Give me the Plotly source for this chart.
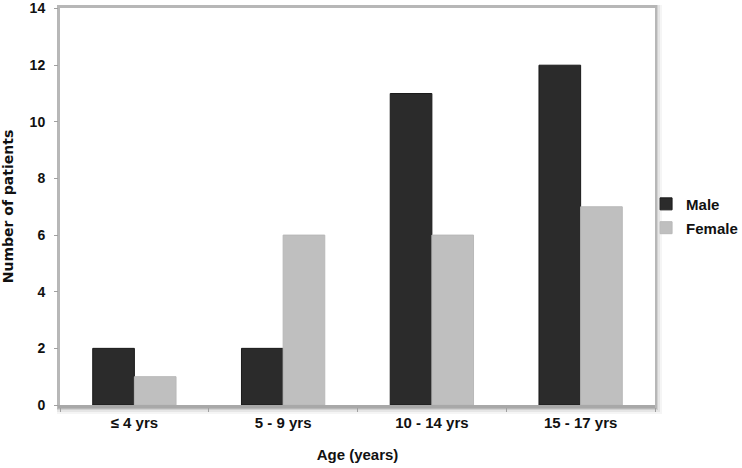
import plotly.graph_objects as go

categories = ["≤ 4 yrs", "5 - 9 yrs", "10 - 14 yrs", "15 - 17 yrs"]
male = [2, 2, 11, 12]
female = [1, 6, 6, 7]
y_ticks = [0, 2, 4, 6, 8, 10, 12, 14]

FONT = "Liberation Sans, Arial, sans-serif"
PW, PH = 595, 397

fig = go.Figure()
fig.add_trace(go.Bar(name="Male", x=categories, y=male, showlegend=True,
                     marker=dict(color="#2b2b2b", line=dict(color="#1a1a1a", width=1)),
                     legend="legend"))
fig.add_trace(go.Bar(name="Female", x=categories, y=female, showlegend=True,
                     marker=dict(color="#bfbfbf", line=dict(color="#b8b8b8", width=1)),
                     legend="legend2"))

# soft shadow behind plot area, then white plot face on top
shapes = []
for d, op in [(7, 0.04), (5, 0.06), (3, 0.09), (2, 0.12)]:
    shapes.append(dict(type="rect", xref="paper", yref="paper", layer="below",
                       x0=-3 / PW, x1=1.0 + d / PW, y0=-(d + 2) / PH, y1=1.0 + 3 / PH,
                       fillcolor=f"rgba(0,0,0,{op})", line=dict(width=0)))
shapes.append(dict(type="rect", xref="paper", yref="paper", layer="below",
                   x0=0, x1=1, y0=0, y1=1, fillcolor="white", line=dict(width=0)))

legend_font = dict(family=FONT, size=15, weight="bold", color="#111111")

fig.update_layout(
    width=742, height=468,
    margin=dict(l=60, r=87, t=8, b=63, autoexpand=False),
    paper_bgcolor="white", plot_bgcolor="rgba(0,0,0,0)",
    barmode="group", bargap=0.44, bargroupgap=0,
    font=dict(family=FONT, color="#111111", size=14),
    shapes=shapes,
    legend=dict(x=0.985, y=0.506, xanchor="left", yanchor="middle",
                font=legend_font, bgcolor="rgba(0,0,0,0)", itemwidth=30),
    legend2=dict(x=0.985, y=0.446, xanchor="left", yanchor="middle",
                 font=legend_font, bgcolor="rgba(0,0,0,0)", itemwidth=30),
    xaxis=dict(
        title=dict(text="Age (years)", font=dict(family=FONT, size=15, weight="bold"), standoff=20),
        tickfont=dict(family=FONT, size=15, weight="bold"),
        showline=True, linecolor="#a8a8a8", linewidth=3, ticklabelstandoff=2,
        ticks="outside", tickson="boundaries", ticklen=4, tickcolor="#a0a0a0",
        showgrid=False,
    ),
    yaxis=dict(
        title=dict(text="Number of patients",
                   font=dict(family="DejaVu Sans, sans-serif", size=14, weight="bold"), standoff=15),
        tickfont=dict(family=FONT, size=14, weight="bold"),
        range=[0, 14.02], tickvals=y_ticks, ticklabelstandoff=6,
        showline=True, linecolor="#b8b8b8", linewidth=2,
        ticks="outside", ticklen=4, tickcolor="#a0a0a0",
        showgrid=False, zeroline=False,
    ),
)

fig.write_html("out.html", config={"displayModeBar": False},
               post_script="document.body.style.margin='0';")
